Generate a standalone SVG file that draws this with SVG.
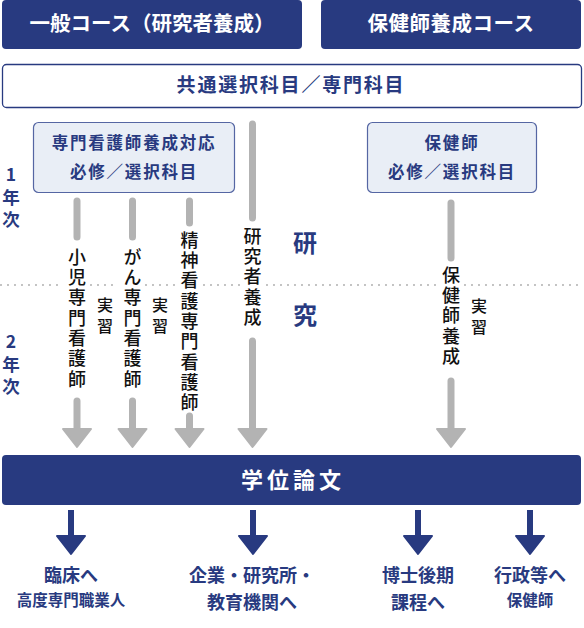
<svg xmlns="http://www.w3.org/2000/svg" width="584" height="628" viewBox="0 0 584 628">
<style>
.jp{font-family:"Noto Sans CJK JP","Noto Sans",sans-serif}
.hd{fill:#283a80}
.hdt{fill:#fff;font-weight:700;font-size:20.5px;text-anchor:middle}
.nv{fill:#283a80;font-weight:700;text-anchor:middle}
.yr{fill:#283a80;font-weight:700;font-size:17.5px;writing-mode:vertical-rl;text-orientation:upright;letter-spacing:5px}
.sub{fill:#e9eef6;stroke:#5566a3;stroke-width:1.2}
.vt{writing-mode:vertical-rl;font-size:18px;fill:#111;font-weight:500;letter-spacing:2.3px}
.jx{writing-mode:vertical-rl;font-size:16px;fill:#111;font-weight:500;letter-spacing:5px}
.gs{stroke:#b3b3b3;stroke-width:7;stroke-linecap:round;fill:none}
.gh{fill:#b3b3b3;stroke:#b3b3b3;stroke-width:2;stroke-linejoin:round}
.ns{stroke:#283a80;stroke-width:6;fill:none}
.nh{fill:#283a80;stroke:#283a80;stroke-width:2;stroke-linejoin:round}
.dot{stroke:#b0b0b0;stroke-width:2;stroke-linecap:round;stroke-dasharray:0 7;fill:none}
</style>
<g class="jp">
<g id="dotted-line">
<path class="dot" d="M1 285H64M91 285H119M146 285H177M204 285H240M267 285H438M465 285H584"/>
</g>
<g id="course-general"><rect class="hd" x="2" y="0" width="300" height="49" rx="4"/><text class="hdt" x="152" y="31">一般コース（研究者養成）</text></g>
<g id="course-phn"><rect class="hd" x="321" y="0" width="260" height="49" rx="4"/><text class="hdt" x="451" y="31" letter-spacing="0.5">保健師養成コース</text></g>
<g id="common"><rect x="2.5" y="64.5" width="579" height="43" rx="4" fill="#fff" stroke="#283a80" stroke-width="1.3"/><text class="nv" x="291" y="92" font-size="19" letter-spacing="1.8">共通選択科目／専門科目</text></g>
<g id="cns-box"><rect class="sub" x="33.5" y="122.5" width="201" height="70" rx="5"/><text class="nv" x="134" y="149" font-size="16.5" letter-spacing="1.8">専門看護師養成対応</text><text class="nv" x="134" y="178" font-size="16.5" letter-spacing="1.8">必修／選択科目</text></g>
<g id="phn-box"><rect class="sub" x="367.5" y="122.5" width="169" height="70" rx="5"/><text class="nv" x="452" y="149" font-size="16.5" letter-spacing="1.8">保健師</text><text class="nv" x="452" y="178" font-size="16.5" letter-spacing="1.8">必修／選択科目</text></g>
<g id="year1"><text class="yr" x="11" y="166">1年次</text></g>
<g id="year2"><text class="yr" x="11" y="333">2年次</text></g>
<g id="research"><text class="nv" x="305" y="252" font-size="24">研</text><text class="nv" x="305" y="324" font-size="24">究</text></g>
<g id="connectors">
<path class="gs" d="M77 201V237M77 401V428"/><polygon class="gh" points="63,429 91,429 77,447"/>
<path class="gs" d="M132.5 201V237M132.5 401V428"/><polygon class="gh" points="118.5,429 146.5,429 132.5,447"/>
<path class="gs" d="M189.5 201V223M189.5 416V428"/><polygon class="gh" points="175.5,429 203.5,429 189.5,447"/>
<path class="gs" d="M252.5 124V218M252.5 341V428"/><polygon class="gh" points="238.5,429 266.5,429 252.5,447"/>
<path class="gs" d="M451 203V258M451 381V428"/><polygon class="gh" points="437,429 465,429 451,447"/>
<path class="ns" d="M71 510V537"/><polygon class="nh" points="57,536 85,536 71,554"/>
<path class="ns" d="M253 510V537"/><polygon class="nh" points="239,536 267,536 253,554"/>
<path class="ns" d="M418 510V537"/><polygon class="nh" points="404,536 432,536 418,554"/>
<path class="ns" d="M530 510V537"/><polygon class="nh" points="516,536 544,536 530,554"/>
</g>
<g id="track-child"><text class="vt" x="77" y="248">小児専門看護師</text><text class="jx" x="105" y="297">実習</text></g>
<g id="track-cancer"><text class="vt" x="132.5" y="248">がん専門看護師</text><text class="jx" x="160" y="297">実習</text></g>
<g id="track-psych"><text class="vt" x="189.5" y="231" letter-spacing="1.5">精神看護専門看護師</text></g>
<g id="track-research"><text class="vt" x="252.5" y="227">研究者養成</text></g>
<g id="track-phn"><text class="vt" x="451" y="266">保健師養成</text><text class="jx" x="479" y="298">実習</text></g>
<g id="thesis"><rect class="hd" x="2" y="455" width="579" height="50" rx="4"/><text x="293" y="488" fill="#fff" font-weight="700" font-size="22" text-anchor="middle" letter-spacing="4">学位論文</text></g>
<g id="out-clinical"><text class="nv" x="71" y="581.5" font-size="18">臨床へ</text><text class="nv" x="71" y="605.5" font-size="15.5">高度専門職業人</text></g>
<g id="out-industry"><text class="nv" x="252" y="581.5" font-size="18">企業・研究所・</text><text class="nv" x="252" y="608.5" font-size="18">教育機関へ</text></g>
<g id="out-doctoral"><text class="nv" x="418" y="581.5" font-size="18">博士後期</text><text class="nv" x="418" y="608.5" font-size="18">課程へ</text></g>
<g id="out-admin"><text class="nv" x="530" y="581.5" font-size="18">行政等へ</text><text class="nv" x="530" y="605.5" font-size="15.5">保健師</text></g>
</g>
</svg>
